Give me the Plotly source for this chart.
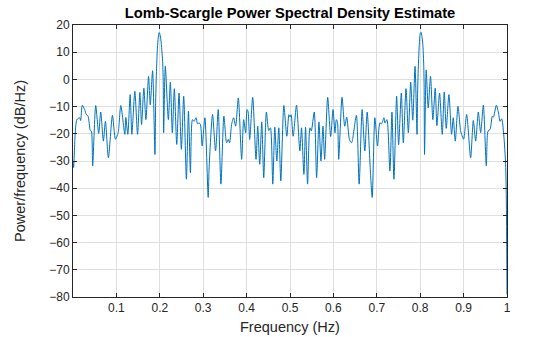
import plotly.graph_objects as go

# Frequency (Hz) and power (dB/Hz) (local maxima / minima)
freq = [
    0.0, 0.0014, 0.005, 0.009, 0.0153, 0.0176, 0.0214, 0.0268, 0.0307, 0.0346, 0.040, 0.0423,
    0.0453, 0.0523, 0.0592, 0.0639, 0.070, 0.0747, 0.0816, 0.0909, 0.0978, 0.104, 0.1101,
    0.1194, 0.1217, 0.1263, 0.1317, 0.1356, 0.1425, 0.1487, 0.1541, 0.158, 0.1633, 0.168,
    0.1741, 0.178, 0.1834, 0.1888, 0.1905, 0.1925, 0.1945, 0.1965, 0.1985, 0.2005, 0.2025,
    0.2045, 0.2065, 0.2078, 0.2089, 0.2127, 0.2197, 0.2243, 0.2289, 0.2335, 0.239, 0.2443,
    0.2497, 0.2551, 0.2613, 0.266, 0.2706, 0.2752, 0.2791, 0.2837, 0.2868, 0.2906, 0.2937,
    0.2976, 0.3039, 0.3115, 0.3135, 0.3215, 0.3285, 0.3346, 0.3408, 0.3477, 0.3539, 0.3577,
    0.3608, 0.3654, 0.370, 0.3747, 0.3809, 0.3886, 0.3932, 0.3978, 0.4010, 0.4032, 0.4071,
    0.414, 0.4217, 0.4256, 0.4302, 0.4349, 0.4395, 0.4456, 0.451, 0.4549, 0.4603, 0.465,
    0.4696, 0.4742, 0.4788, 0.4858, 0.4927, 0.4975, 0.500, 0.5025, 0.5073, 0.515, 0.5227,
    0.5266, 0.532, 0.5358, 0.5405, 0.5459, 0.549, 0.5559, 0.5613, 0.5667, 0.5713, 0.576,
    0.5798, 0.5868, 0.5937, 0.5991, 0.6037, 0.6068, 0.6091, 0.6122, 0.6199, 0.6261, 0.6307,
    0.6369, 0.6415, 0.6438, 0.653, 0.6593, 0.6662, 0.6724, 0.6778, 0.6848, 0.6894, 0.6955,
    0.7017, 0.7071, 0.711, 0.7164, 0.7187, 0.7233, 0.7302, 0.7349, 0.7395, 0.7457, 0.7503,
    0.7565, 0.7611, 0.7673, 0.7727, 0.7781, 0.7828, 0.7881, 0.7927, 0.794, 0.796, 0.798,
    0.800, 0.802, 0.804, 0.806, 0.808, 0.809, 0.810, 0.8138, 0.8185, 0.8238, 0.8292, 0.8346,
    0.8385, 0.8446, 0.8508, 0.8554, 0.860, 0.8662, 0.8723, 0.8762, 0.8808, 0.887, 0.8931,
    0.8954, 0.900, 0.907, 0.9162, 0.9224, 0.9278, 0.9339, 0.9393, 0.9455, 0.9524, 0.9563,
    0.9609, 0.9663, 0.9686, 0.9755, 0.9801, 0.984, 0.9878, 0.9924, 0.9971, 1.0,
]
power = [
    -30.0, -32.4, -20.0, -14.8, -14.1, -15.1, -9.5, -11.1, -12.9, -13.5, -18.8, -19.0,
    -31.8, -9.6, -19.9, -12.0, -22.7, -15.4, -28.8, -13.2, -22.0, -19.6, -9.6,
    -20.2, -14.0, -20.2, -5.6, -20.2, -4.4, -20.2, -4.8, -16.6, -3.2, -14.8,
    1.1, -9.3, 3.2, -27.6, -8.0, 4.0, 11.5, 15.5, 17.2, 16.5, 14.5,
    11.0, 6.6, 0.0, -19.6, 4.8, -14.8, -1.0, -19.6, -3.4, -23.9, -5.0,
    -25.7, -6.2, -36.7, -11.7, -34.3, -14.8, -15.4, -14.1, -16.3, -16.0, -16.6,
    -24.5, -14.1, -43.4, -33.0, -12.9, -26.3, -11.1, -38.5, -13.5, -23.3, -22.1,
    -23.3, -16.6, -14.1, -17.2, -6.8, -29.4, -14.8, -19.6, -11.1, -11.7, -22.1,
    -6.6, -29.4, -17.2, -31.2, -15.6, -36.1, -12.0, -18.8, -17.8, -38.5, -17.6,
    -30.0, -17.8, -37.3, -9.6, -20.9, -13.0, -13.8, -13.0, -20.9, -9.5, -26.3,
    -17.8, -34.9, -17.6, -38.5, -17.8, -19.0, -12.0, -36.1, -15.6, -30.0, -17.2,
    -29.4, -6.6, -21.0, -11.1, -19.6, -14.8, -15.4, -29.4, -6.6, -17.2, -13.9,
    -22.1, -23.3, -22.4, -13.2, -38.5, -11.1, -26.3, -12.0, -32.4, -43.4, -14.1,
    -24.5, -16.0, -16.3, -14.1, -16.0, -14.8, -33.7, -12.0, -36.7, -6.2, -24.0,
    -5.0, -23.3, -3.4, -19.6, -1.0, -15.0, 4.8, -20.2, -5.0, 6.0, 13.0,
    16.8, 17.3, 15.8, 13.0, 6.0, -2.0, -27.6, 3.5, -10.5, 1.1, -14.8, -3.2,
    -17.0, -5.0, -20.2, -4.6, -18.0, -5.6, -20.2, -14.1, -22.7, -9.9, -19.0,
    -20.2, -22.0, -12.9, -28.8, -15.1, -22.7, -12.0, -19.6, -9.5, -31.8, -19.0,
    -18.4, -13.5, -13.9, -9.5, -12.0, -15.4, -14.5, -20.2, -32.4, -79.0,
]

x_tick_vals = [0.1, 0.2, 0.3, 0.4, 0.5, 0.6, 0.7, 0.8, 0.9, 1.0]
x_tick_text = ["0.1", "0.2", "0.3", "0.4", "0.5", "0.6", "0.7", "0.8", "0.9", "1"]
y_tick_vals = [-80, -70, -60, -50, -40, -30, -20, -10, 0, 10, 20]

title_text = "Lomb-Scargle Power Spectral Density Estimate"
x_label = "Frequency (Hz)"
y_label = "Power/frequency (dB/Hz)"

axis_color = "#262626"
grid_color = "#dfdfdf"
font_family = "Liberation Sans, Arial, sans-serif"

fig = go.Figure()
fig.add_trace(go.Scatter(
    x=freq, y=power, mode="lines",
    line=dict(color="#0072BD", width=1, shape="spline", smoothing=0.7),
    hoverinfo="skip", showlegend=False,
))

fig.update_layout(
    width=560, height=337,
    margin=dict(l=73, r=53, t=25, b=40, autoexpand=False),
    paper_bgcolor="white", plot_bgcolor="white",
    font=dict(family=font_family, color=axis_color, size=12),
    title=dict(
        text="<b>" + title_text + "</b>",
        x=0.5, xref="paper", xanchor="center",
        y=1 - 13 / 337, yref="container", yanchor="middle",
        font=dict(size=14.7, color="black", family=font_family),
    ),
    annotations=[
        dict(text=x_label, xref="paper", yref="paper", x=0.5, y=0,
             xanchor="center", yanchor="middle", yshift=-30, showarrow=False,
             font=dict(size=14.5, color=axis_color, family=font_family)),
        dict(text=y_label, xref="paper", yref="paper", x=0, y=0.5,
             xanchor="center", yanchor="middle", xshift=-53, textangle=-90,
             showarrow=False,
             font=dict(size=14.5, color=axis_color, family=font_family)),
    ],
)

fig.update_xaxes(
    range=[0, 1], tickvals=x_tick_vals, ticktext=x_tick_text,
    showgrid=True, gridcolor=grid_color, gridwidth=1,
    showline=True, linecolor=axis_color, linewidth=1, mirror="ticks",
    ticks="inside", ticklen=4, tickcolor=axis_color,
    zeroline=False, tickfont=dict(size=12, color=axis_color), automargin=False,
)
fig.update_yaxes(
    range=[-80, 20], tickvals=y_tick_vals,
    showgrid=True, gridcolor=grid_color, gridwidth=1,
    showline=True, linecolor=axis_color, linewidth=1, mirror="ticks",
    ticks="inside", ticklen=4, tickcolor=axis_color,
    zeroline=False, tickfont=dict(size=12, color=axis_color), automargin=False,
)

fig.write_html("out.html")
